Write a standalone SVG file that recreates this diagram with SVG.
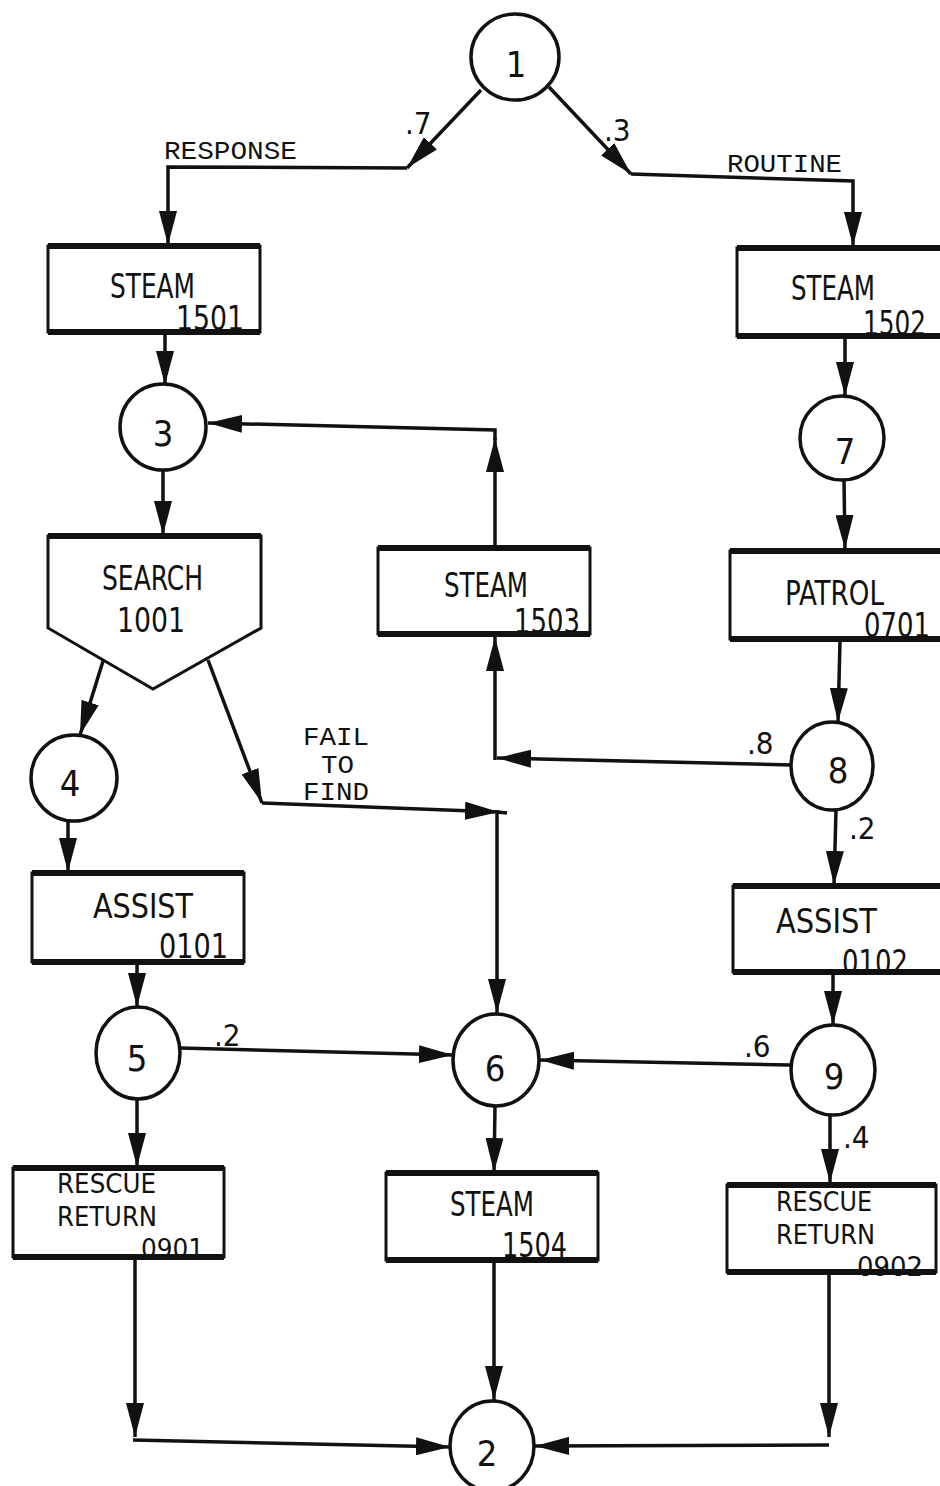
<svg xmlns="http://www.w3.org/2000/svg" width="940" height="1486" viewBox="0 0 940 1486">
<style>
.bg{fill:#fff}
.box{fill:#fff;stroke:#111;stroke-width:3}
.edge{fill:none;stroke:#111;stroke-width:6}
.circ{fill:#fff;stroke:#111;stroke-width:3.5}
.con{fill:none;stroke:#111;stroke-width:3.5;marker-end:url(#ah)}
.lbl{font-family:"DejaVu Sans Condensed","Liberation Sans",sans-serif;font-size:34px;fill:#111}
.lbs{font-family:"DejaVu Sans Condensed","Liberation Sans",sans-serif;font-size:27px;fill:#111}
.num{font-family:"DejaVu Sans Condensed","Liberation Sans",sans-serif;font-size:36px;fill:#111;text-anchor:middle}
.prob{font-family:"DejaVu Sans Condensed","Liberation Sans",sans-serif;font-size:31px;fill:#111}
.small{font-family:"Liberation Mono","DejaVu Sans Mono",monospace;font-size:25px;fill:#111}
</style>
<defs>
<marker id="ah" viewBox="0 0 34 18" refX="34" refY="9" markerWidth="34" markerHeight="18" markerUnits="userSpaceOnUse" orient="auto">
<path d="M0,0 L34,9 L0,18 z" fill="#111"/>
</marker>
</defs>
<rect class="bg" x="0" y="0" width="940" height="1486"/>

<g id="connectors">
<path class="con" d="M481,90 L407,168"/>
<path class="con" d="M407,168 L168,167 L168,245"/>
<path class="con" d="M549,87 L631,174"/>
<path class="con" d="M631,174 L853,181 L853,246"/>
<path class="con" d="M165,334 L165,385"/>
<path class="con" d="M163,470 L163,535"/>
<path class="con" d="M495,548 L495,438"/>
<path class="con" d="M495,440 L495,430 L208,423"/>
<path class="con" d="M845,339 L845,396"/>
<path class="con" d="M844,480 L845,549"/>
<path class="con" d="M840,641 L838,722"/>
<path class="con" d="M791,765 L497,758"/>
<path class="con" d="M495,760 L495,637"/>
<path class="con" d="M104,658 L80,735"/>
<path class="con" d="M208,660 L262,803"/>
<path class="con" d="M262,803 L499,812"/>
<path class="con" d="M507,813 L497,812 L497,1013"/>
<path class="con" d="M68,821 L68,872"/>
<path class="con" d="M137,964 L137,1007"/>
<path class="con" d="M180,1048 L453,1055"/>
<path class="con" d="M790,1065 L540,1060"/>
<path class="con" d="M836,810 L834,885"/>
<path class="con" d="M833,974 L833,1025"/>
<path class="con" d="M137,1099 L137,1167"/>
<path class="con" d="M495,1106 L494,1172"/>
<path class="con" d="M830,1115 L830,1183"/>
<path class="con" d="M135,1259 L135,1437"/>
<path class="con" d="M133,1440 L450,1447"/>
<path class="con" d="M494,1263 L494,1400"/>
<path class="con" d="M829,1274 L829,1437"/>
<path class="con" d="M829,1445 L535,1446"/>
<text class="prob" x="405" y="134">.7</text>
<text class="prob" x="604" y="141">.3</text>
<text class="small" x="164" y="159" textLength="133" lengthAdjust="spacingAndGlyphs">RESPONSE</text>
<text class="small" x="727" y="172" textLength="115" lengthAdjust="spacingAndGlyphs">ROUTINE</text>
<text class="small" x="303" y="745" textLength="66" lengthAdjust="spacingAndGlyphs">FAIL</text>
<text class="small" x="321" y="773" textLength="33" lengthAdjust="spacingAndGlyphs">TO</text>
<text class="small" x="303" y="800" textLength="66" lengthAdjust="spacingAndGlyphs">FIND</text>
<text class="prob" x="747" y="754">.8</text>
<text class="prob" x="849" y="839">.2</text>
<text class="prob" x="214" y="1046">.2</text>
<text class="prob" x="744" y="1057">.6</text>
<text class="prob" x="843" y="1148">.4</text>
</g>

<g id="n1"><ellipse class="circ" cx="515" cy="57" rx="44" ry="43"/><text class="num" x="516" y="77">1</text></g>
<g id="n2"><ellipse class="circ" cx="492" cy="1446" rx="42" ry="45"/><text class="num" x="487" y="1466">2</text></g>
<g id="n3"><ellipse class="circ" cx="163" cy="427" rx="43" ry="43"/><text class="num" x="163" y="446">3</text></g>
<g id="n4"><ellipse class="circ" cx="74" cy="778" rx="43" ry="43"/><text class="num" x="70" y="796">4</text></g>
<g id="n5"><ellipse class="circ" cx="138" cy="1053" rx="42" ry="46"/><text class="num" x="137" y="1071">5</text></g>
<g id="n6"><ellipse class="circ" cx="496" cy="1060" rx="43" ry="46"/><text class="num" x="495" y="1081">6</text></g>
<g id="n7"><ellipse class="circ" cx="842" cy="438" rx="42" ry="42"/><text class="num" x="845" y="464">7</text></g>
<g id="n8"><ellipse class="circ" cx="832" cy="766" rx="41" ry="44"/><text class="num" x="838" y="783">8</text></g>
<g id="n9"><ellipse class="circ" cx="833" cy="1070" rx="42" ry="45"/><text class="num" x="834" y="1089">9</text></g>

<g id="steam1501">
<rect class="box" x="48" y="246" width="212" height="86"/>
<path class="edge" d="M48,246 H260 M48,332 H260"/>
<text class="lbl" x="110" y="298" textLength="85" lengthAdjust="spacingAndGlyphs">STEAM</text>
<text class="lbl" x="176" y="330" textLength="68" lengthAdjust="spacingAndGlyphs">1501</text>
</g>
<g id="steam1502">
<rect class="box" x="737" y="248" width="210" height="88"/>
<path class="edge" d="M737,248 H940 M737,336 H940"/>
<text class="lbl" x="791" y="300" textLength="84" lengthAdjust="spacingAndGlyphs">STEAM</text>
<text class="lbl" x="863" y="335" textLength="63" lengthAdjust="spacingAndGlyphs">1502</text>
</g>
<g id="search1001">
<path class="box" d="M48,536 H261 V628 L153,689 L48,628 Z"/>
<path class="edge" d="M48,536 H261"/>
<text class="lbl" x="102" y="590" textLength="101" lengthAdjust="spacingAndGlyphs">SEARCH</text>
<text class="lbl" x="117" y="632" textLength="68" lengthAdjust="spacingAndGlyphs">1001</text>
</g>
<g id="steam1503">
<rect class="box" x="378" y="548" width="212" height="86"/>
<path class="edge" d="M378,548 H590 M378,634 H590"/>
<text class="lbl" x="444" y="597" textLength="84" lengthAdjust="spacingAndGlyphs">STEAM</text>
<text class="lbl" x="514" y="633" textLength="66" lengthAdjust="spacingAndGlyphs">1503</text>
</g>
<g id="patrol0701">
<rect class="box" x="730" y="551" width="215" height="88"/>
<path class="edge" d="M730,551 H940 M730,639 H940"/>
<text class="lbl" x="785" y="605" textLength="99" lengthAdjust="spacingAndGlyphs">PATROL</text>
<text class="lbl" x="864" y="637" textLength="66" lengthAdjust="spacingAndGlyphs">0701</text>
</g>
<g id="assist0101">
<rect class="box" x="32" y="873" width="212" height="89"/>
<path class="edge" d="M32,873 H244 M32,962 H244"/>
<text class="lbl" x="93" y="918" textLength="100" lengthAdjust="spacingAndGlyphs">ASSIST</text>
<text class="lbl" x="159" y="958" textLength="69" lengthAdjust="spacingAndGlyphs">0101</text>
</g>
<g id="assist0102">
<rect class="box" x="733" y="886" width="212" height="86"/>
<path class="edge" d="M733,886 H940 M733,972 H940"/>
<text class="lbl" x="776" y="933" textLength="101" lengthAdjust="spacingAndGlyphs">ASSIST</text>
<text class="lbl" x="842" y="974" textLength="66" lengthAdjust="spacingAndGlyphs">0102</text>
</g>
<g id="rescue0901">
<rect class="box" x="13" y="1168" width="211" height="89"/>
<path class="edge" d="M13,1168 H224 M13,1257 H224"/>
<text class="lbs" x="57" y="1193" textLength="99" lengthAdjust="spacingAndGlyphs">RESCUE</text>
<text class="lbs" x="57" y="1225.5" textLength="100" lengthAdjust="spacingAndGlyphs">RETURN</text>
<text class="lbs" x="141" y="1258" textLength="63" lengthAdjust="spacingAndGlyphs">0901</text>
</g>
<g id="steam1504">
<rect class="box" x="386" y="1173" width="212" height="87"/>
<path class="edge" d="M386,1173 H598 M386,1260 H598"/>
<text class="lbl" x="450" y="1216" textLength="84" lengthAdjust="spacingAndGlyphs">STEAM</text>
<text class="lbl" x="502" y="1257" textLength="65" lengthAdjust="spacingAndGlyphs">1504</text>
</g>
<g id="rescue0902">
<rect class="box" x="727" y="1185" width="209" height="87"/>
<path class="edge" d="M727,1185 H936 M727,1272 H936"/>
<text class="lbs" x="776" y="1211" textLength="96" lengthAdjust="spacingAndGlyphs">RESCUE</text>
<text class="lbs" x="776" y="1243.5" textLength="99" lengthAdjust="spacingAndGlyphs">RETURN</text>
<text class="lbs" x="857" y="1276" textLength="66" lengthAdjust="spacingAndGlyphs">0902</text>
</g>
</svg>
